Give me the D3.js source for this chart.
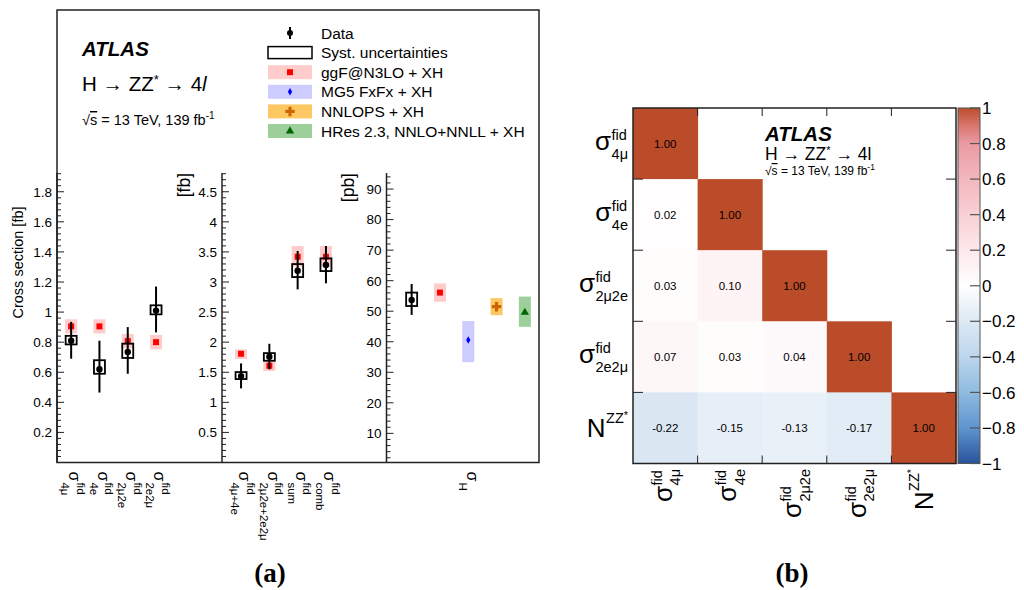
<!DOCTYPE html>
<html><head><meta charset="utf-8">
<script src="https://cdn.jsdelivr.net/npm/d3@7"></script>
<style>
body{margin:0;background:#fff;}
svg{display:block;font-family:"Liberation Sans",Arial,Helvetica,sans-serif;}
</style></head><body>
<svg id="chart" width="1024" height="590"></svg>
<script>
// ================= DATA =================
// Panel (a)-1 : fiducial cross sections per channel [fb]
const p1Cats    = ["4μ","4e","2μ2e","2e2μ"];
const p1Data    = [0.81, 0.62, 0.735, 1.01];
const p1StatLo  = [0.69, 0.465, 0.59, 0.865];
const p1StatHi  = [0.935, 0.81, 0.90, 1.17];
const p1SystLo  = [0.785, 0.59, 0.695, 0.985];
const p1SystHi  = [0.842, 0.68, 0.79, 1.045];
const p1Pred    = [0.905, 0.905, 0.807, 0.80];
const p1PredLo  = [0.858, 0.858, 0.76, 0.752];
const p1PredHi  = [0.952, 0.952, 0.855, 0.848];
const p1Ticks   = [0.2,0.4,0.6,0.8,1,1.2,1.4,1.6,1.8];

// Panel (a)-2 : combined fiducial cross sections [fb]
const p2Cats    = ["4μ+4e","2μ2e+2e2μ","sum","comb"];
const p2Data    = [1.436, 1.757, 3.187, 3.282];
const p2StatLo  = [1.232, 1.548, 2.877, 2.977];
const p2StatHi  = [1.647, 1.973, 3.515, 3.598];
const p2SystLo  = [1.387, 1.691, 3.082, 3.182];
const p2SystHi  = [1.503, 1.818, 3.298, 3.393];
const p2Pred    = [1.807, 1.608, 3.42, 3.42];
const p2PredLo  = [1.72, 1.52, 3.254, 3.254];
const p2PredHi  = [1.88, 1.69, 3.598, 3.598];
const p2Ticks   = [0.5,1,1.5,2,2.5,3,3.5,4,4.5];

// Panel (a)-3 : total cross section sigma_H [pb]
const p3Cats     = ["Data","ggF@N3LO","MG5 FxFx","NNLOPS","HRes 2.3"];
const p3Data     = 53.7;
const p3StatLo   = 48.8, p3StatHi = 58.9;
const p3SystLo   = 51.7, p3SystHi = 56.1;
const p3Models   = ["ggF@N3LO","MG5 FxFx","NNLOPS","HRes 2.3"];
const p3Pred     = [56.1, 40.6, 51.5, 49.6];
const p3PredLo   = [53.1, 33.3, 48.7, 44.9];
const p3PredHi   = [59.1, 46.8, 54.3, 54.8];
const p3Ticks    = [10,20,30,40,50,60,70,80,90];

// Legend
const legendLabels = ["Data","Syst. uncertainties","ggF@N3LO + XH","MG5 FxFx + XH","NNLOPS + XH","HRes 2.3, NNLO+NNLL + XH"];

// Panel (b) : correlation matrix
const mBase = ["σ","σ","σ","σ","N"];
const mSup  = ["fid","fid","fid","fid","ZZ*"];
const mSub  = ["4μ","4e","2μ2e","2e2μ",""];
const corrRow0 = [1.00];
const corrRow1 = [0.02, 1.00];
const corrRow2 = [0.03, 0.10, 1.00];
const corrRow3 = [0.07, 0.03, 0.04, 1.00];
const corrRow4 = [-0.22, -0.15, -0.13, -0.17, 1.00];
const colorbarTicks = [-1,-0.8,-0.6,-0.4,-0.2,0,0.2,0.4,0.6,0.8,1];

// ================= STYLE =================
const bandColors   = ["#ffcccc","#ccccff","#fdc863","#9dcf9b"];
const markerColors = ["#ff0000","#0000ff","#cc6600","#006600"];
const markerTypes  = [d3.symbolSquare, d3.symbolDiamond, d3.symbolCross, d3.symbolTriangle];
const markerSizes  = [36, 16, 50, 30];

const svg = d3.select("#chart");
svg.append("rect").attr("width",1024).attr("height",590).attr("fill","#fff");

// helper: base glyph with stacked super/subscript; returns width
function scripted(g, base, sup, sub, o){
  const t = g.append("text").attr("x",0).attr("y",0).style("font-size",o.size+"px").text(base);
  const bw = t.node().getComputedTextLength();
  const sx = bw + (o.gap||0.5);
  let w = bw;
  if(sup){
    const s = g.append("text").attr("x",sx).attr("y",-o.supDy).style("font-size",o.ssize+"px");
    const parts = sup.split("*");
    s.append("tspan").text(parts[0]);
    if(sup.indexOf("*")>=0){
      s.append("tspan").attr("dy",-o.ssize*0.3).style("font-size",(o.ssize*0.75)+"px").text("*");
    }
    w = Math.max(w, sx + s.node().getComputedTextLength());
  }
  if(sub){
    const s = g.append("text").attr("x",sx).attr("y",o.subDy).style("font-size",o.ssize+"px").text(sub);
    w = Math.max(w, sx + s.node().getComputedTextLength());
  }
  return w;
}
function sqrtS(t){
  t.append("tspan").text("√");
  t.append("tspan").style("text-decoration","overline").text("s");
}

// ================= PANEL (a) =================
const yBot = 462.5, yAxisTop = 173;
const gA = svg.append("g");

const panels = [
  {x0:57,  xr:[57,170.2],   cats:p1Cats, y:d3.scaleLinear().domain([0,1.92]).range([462.5,173.7]), minor:0.04, per:5, ticks:p1Ticks,
   data:p1Data, sLo:p1StatLo, sHi:p1StatHi, yLo:p1SystLo, yHi:p1SystHi, pred:p1Pred, pLo:p1PredLo, pHi:p1PredHi},
  {x0:222, xr:[226.9,340.1], cats:p2Cats, y:d3.scaleLinear().domain([0,4.8]).range([462.5,173.7]), minor:0.1, per:5, ticks:p2Ticks,
   data:p2Data, sLo:p2StatLo, sHi:p2StatHi, yLo:p2SystLo, yHi:p2SystHi, pred:p2Pred, pLo:p2PredLo, pHi:p2PredHi},
  {x0:386.5, xr:[397.5,539], cats:p3Cats, y:d3.scaleLinear().domain([0,95]).range([463.9,173.8]), minor:2, per:5, ticks:p3Ticks}
];

panels.forEach((p,pi)=>{
  p.x = d3.scaleBand().domain(p.cats).range(p.xr).padding(0);
  p.cx = c => p.x(c) + p.x.bandwidth()/2;
  gA.append("line").attr("x1",p.x0).attr("x2",p.x0).attr("y1",yAxisTop).attr("y2",yBot)
    .attr("stroke","#222").attr("stroke-width",1.5);
  const max = p.y.domain()[1];
  const n = Math.floor(max/p.minor + 1e-6);
  for(let i=1;i<=n;i++){
    const v = i*p.minor, yy = p.y(v);
    if (yy < yAxisTop) continue;
    const major = (i % p.per)===0;
    gA.append("line").attr("x1",p.x0).attr("x2",p.x0+(major?7:4)).attr("y1",yy).attr("y2",yy)
      .attr("stroke","#222").attr("stroke-width",1);
  }
  p.ticks.forEach(v=>{
    gA.append("text").attr("x",p.x0-5).attr("y",p.y(v)).attr("dy","0.36em")
      .attr("text-anchor","end").style("font-size","13.5px").text(d3.format("~g")(v));
  });
});

gA.append("rect").attr("x",57).attr("y",10).attr("width",482).attr("height",452.5)
  .attr("fill","none").attr("stroke","#222").attr("stroke-width",1.5);

gA.append("text").attr("transform","translate(23,318.5) rotate(-90)").attr("text-anchor","start")
  .style("font-size","14.5px").text("Cross section [fb]");
gA.append("text").attr("transform","translate(189.5,173) rotate(-90)").attr("text-anchor","end")
  .style("font-size","17.5px").text("[fb]");
gA.append("text").attr("transform","translate(354,173) rotate(-90)").attr("text-anchor","end")
  .style("font-size","17.5px").text("[pb]");

function drawBand(g, x, lo, hi, color, y){
  g.append("rect").attr("x",x-6).attr("width",12).attr("y",y(hi)).attr("height",y(lo)-y(hi)).attr("fill",color);
}
function drawMarker(g, x, v, k, y){
  g.append("path").attr("d",d3.symbol().type(markerTypes[k]).size(markerSizes[k])())
    .attr("transform",`translate(${x},${y(v)})`).attr("fill",markerColors[k]);
}
function drawData(g, x, v, sLo, sHi, yLo, yHi, y){
  g.append("rect").attr("x",x-5.5).attr("width",11).attr("y",y(yHi)).attr("height",y(yLo)-y(yHi))
    .attr("fill","none").attr("stroke","#000").attr("stroke-width",1.8);
  g.append("line").attr("x1",x).attr("x2",x).attr("y1",y(sHi)).attr("y2",y(sLo)).attr("stroke","#000").attr("stroke-width",2);
  g.append("circle").attr("cx",x).attr("cy",y(v)).attr("r",3.2).attr("fill","#000");
}

[panels[0],panels[1]].forEach(p=>{
  p.cats.forEach((c,i)=>{
    const x = p.cx(c);
    drawBand(gA, x, p.pLo[i], p.pHi[i], bandColors[0], p.y);
    drawMarker(gA, x, p.pred[i], 0, p.y);
    drawData(gA, x, p.data[i], p.sLo[i], p.sHi[i], p.yLo[i], p.yHi[i], p.y);
  });
});
{
  const p = panels[2];
  p3Models.forEach((m,k)=>{
    const x = p.cx(m);
    drawBand(gA, x, p3PredLo[k], p3PredHi[k], bandColors[k], p.y);
    drawMarker(gA, x, p3Pred[k], k, p.y);
  });
  drawData(gA, p.cx("Data"), p3Data, p3StatLo, p3StatHi, p3SystLo, p3SystHi, p.y);
}

// bottom category labels (rotated 90)
const bl = {size:16, ssize:11.5, supDy:7.5, subDy:8, gap:1};
[panels[0],panels[1]].forEach(p=>{
  p.cats.forEach(c=>{
    const g = gA.append("g").attr("transform",`translate(${p.cx(c)+2.5},471.5) rotate(90)`);
    const inner = g.append("g").attr("transform",`translate(0,${bl.size*0.26})`);
    scripted(inner,"σ","fid",c,bl);
  });
});
{
  const g = gA.append("g").attr("transform",`translate(471,471.5) rotate(90)`);
  const inner = g.append("g").attr("transform",`translate(0,${bl.size*0.26})`);
  scripted(inner,"σ","","H",bl);
}

// ATLAS label (a)
gA.append("text").attr("x",82).attr("y",56).style("font-size","20.5px").style("font-weight","bold").style("font-style","italic").text("ATLAS");
{
  const t = gA.append("text").attr("x",82).attr("y",91).style("font-size","20.5px");
  t.append("tspan").text("H → ZZ");
  t.append("tspan").attr("dy",-7).style("font-size","13px").text("*");
  t.append("tspan").attr("dy",7).text(" → 4");
  t.append("tspan").style("font-style","italic").text("l");
}
{
  const t = gA.append("text").attr("x",82).attr("y",125).style("font-size","14.5px");
  sqrtS(t);
  t.append("tspan").text(" = 13 TeV, 139 fb");
  t.append("tspan").attr("dy",-6).style("font-size","10px").text("-1");
}

// legend (a)
const legY0 = 33, legDy = 19.6;
legendLabels.forEach((lab,i)=>{
  const cy = legY0 + i*legDy;
  if(i===0){
    gA.append("line").attr("x1",290).attr("x2",290).attr("y1",cy-6).attr("y2",cy+6).attr("stroke","#000").attr("stroke-width",2);
    gA.append("circle").attr("cx",290).attr("cy",cy).attr("r",3).attr("fill","#000");
  } else if(i===1){
    gA.append("rect").attr("x",268).attr("y",cy-6).attr("width",44).attr("height",12).attr("fill","#fff").attr("stroke","#000").attr("stroke-width",1.5);
  } else {
    const k = i-2;
    gA.append("rect").attr("x",268).attr("y",cy-7).attr("width",44).attr("height",14).attr("fill",bandColors[k]);
    gA.append("path").attr("d",d3.symbol().type(markerTypes[k]).size(markerSizes[k])())
      .attr("transform",`translate(290,${cy})`).attr("fill",markerColors[k]);
  }
  gA.append("text").attr("x",321).attr("y",cy+5.5).style("font-size","15.5px").text(lab);
});

gA.append("text").attr("x",270).attr("y",582).attr("text-anchor","middle")
  .style("font-family","'Liberation Serif','Times New Roman',serif").style("font-weight","bold").style("font-size","27px").text("(a)");

// ================= PANEL (b) =================
const gB = svg.append("g");
const corr = [corrRow0,corrRow1,corrRow2,corrRow3,corrRow4];
const idx = d3.range(mBase.length);
const mx = d3.scaleBand().domain(idx).range([633,956]);
const my = d3.scaleBand().domain(idx).range([108,463.5]);
const color = d3.scaleLinear()
  .domain([-1,-0.8,-0.6,-0.4,-0.2,0,0.2,0.4,0.6,0.8,0.9,1])
  .range(["#27539b","#5e95cf","#8fbbe0","#bcd6ec","#dde9f4","#ffffff","#fce8ea","#f8d0d5","#f3b7be","#eb9aa3","#d9776f","#bb4c29"]);

corr.forEach((row,i)=>{
  row.forEach((v,j)=>{
    gB.append("rect").attr("x",mx(j)).attr("y",my(i)).attr("width",mx.bandwidth()+0.5).attr("height",my.bandwidth()+0.5)
      .attr("fill",color(v));
  });
});
corr.forEach((row,i)=>{
  row.forEach((v,j)=>{
    gB.append("text").attr("x",mx(j)+mx.bandwidth()/2).attr("y",my(i)+my.bandwidth()/2).attr("dy","0.36em")
      .attr("text-anchor","middle").style("font-size","11.5px").text(v.toFixed(2));
  });
});
gB.append("rect").attr("x",633).attr("y",108).attr("width",323).attr("height",355.5)
  .attr("fill","none").attr("stroke","#222").attr("stroke-width",1.5);
idx.slice(1).forEach(k=>{
  const xx = mx(k), yy = my(k);
  gB.append("line").attr("x1",xx).attr("x2",xx).attr("y1",108).attr("y2",116).attr("stroke","#222");
  gB.append("line").attr("x1",xx).attr("x2",xx).attr("y1",463.5).attr("y2",455.5).attr("stroke","#222");
  gB.append("line").attr("x1",633).attr("x2",643).attr("y1",yy).attr("y2",yy).attr("stroke","#222");
  gB.append("line").attr("x1",956).attr("x2",946).attr("y1",yy).attr("y2",yy).attr("stroke","#222");
});

const ml = {size:26, ssize:14.5, supDy:10, subDy:8.5, gap:0.5};
const mlN = {size:26, ssize:14.5, supDy:14, subDy:8.5, gap:0.5};
idx.forEach(i=>{
  const o = mBase[i]==="N" ? mlN : ml;
  const cy = my(i)+my.bandwidth()/2;
  const g = gB.append("g");
  const w = scripted(g, mBase[i], mSup[i], mSub[i], o);
  const off = mBase[i]==="N" ? o.size*0.36 : o.size*0.25;
  g.attr("transform",`translate(${628-w},${cy+off})`);
});
idx.forEach(j=>{
  const o = mBase[j]==="N" ? mlN : ml;
  const cx = mx(j)+mx.bandwidth()/2;
  const outer = gB.append("g").attr("transform",`translate(${cx},469) rotate(-90)`);
  const g = outer.append("g");
  const w = scripted(g, mBase[j], mSup[j], mSub[j], o);
  const off = mBase[j]==="N" ? o.size*0.36 : o.size*0.25;
  g.attr("transform",`translate(${-w},${off})`);
});

gB.append("text").attr("x",765).attr("y",141).style("font-size","20.5px").style("font-weight","bold").style("font-style","italic").text("ATLAS");
{
  const t = gB.append("text").attr("x",765).attr("y",159.5).style("font-size","17.5px");
  t.append("tspan").text("H → ZZ");
  t.append("tspan").attr("dy",-6).style("font-size","11px").text("*");
  t.append("tspan").attr("dy",6).text(" → 4l");
}
{
  const t = gB.append("text").attr("x",765).attr("y",175).style("font-size","12px");
  sqrtS(t);
  t.append("tspan").text(" = 13 TeV, 139 fb");
  t.append("tspan").attr("dy",-5).style("font-size","8.5px").text("-1");
}

const cbY = d3.scaleLinear().domain([-1,1]).range([463.5,108]);
const defs = svg.append("defs");
const grad = defs.append("linearGradient").attr("id","cbgrad").attr("x1",0).attr("x2",0).attr("y1",1).attr("y2",0);
d3.range(0,101).forEach(k=>{
  const v = -1 + k*0.02;
  grad.append("stop").attr("offset",(k)+"%").attr("stop-color",color(v));
});
gB.append("rect").attr("x",958).attr("y",cbY(1)).attr("width",22).attr("height",cbY(-1)-cbY(1))
  .attr("fill","url(#cbgrad)").attr("stroke","#555").attr("stroke-width",1);
colorbarTicks.forEach(v=>{
  gB.append("line").attr("x1",980).attr("x2",970).attr("y1",cbY(v)).attr("y2",cbY(v)).attr("stroke","#555").attr("stroke-width",1.2);
  gB.append("text").attr("x",982).attr("y",cbY(v)).attr("dy","0.36em").style("font-size","17px").text(d3.format("~g")(v));
});

gB.append("text").attr("x",792).attr("y",582).attr("text-anchor","middle")
  .style("font-family","'Liberation Serif','Times New Roman',serif").style("font-weight","bold").style("font-size","27px").text("(b)");
</script>
</body></html>
